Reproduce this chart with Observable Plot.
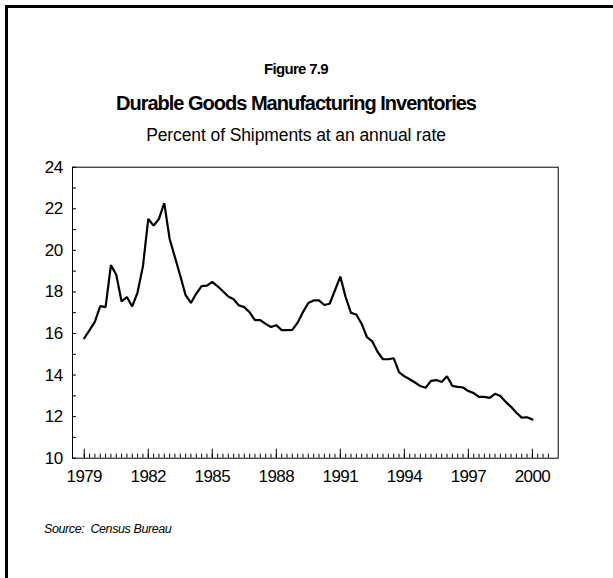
<!DOCTYPE html>
<html><head><meta charset="utf-8">
<script src="https://cdn.jsdelivr.net/npm/d3@7"></script>
<script src="https://cdn.jsdelivr.net/npm/@observablehq/plot@0.6"></script>
<style>
html,body{margin:0;padding:0;background:#fff;}
body{width:613px;height:578px;position:relative;overflow:hidden;font-family:"Liberation Sans",Arial,sans-serif;color:#000;}
#border{position:absolute;left:5px;top:5px;width:640px;height:640px;border-top:3px solid #000;border-left:3px solid #000;}
.t{position:absolute;left:0;width:592px;text-align:center;white-space:nowrap;line-height:1;}
#fig{top:60.7px;font-size:15px;font-weight:bold;letter-spacing:-0.7px;}
#title{top:93px;font-size:20px;font-weight:bold;letter-spacing:-1px;}
#sub{top:127.4px;font-size:17.5px;letter-spacing:-0.1px;}
#src{position:absolute;left:44px;top:523px;font-size:12.5px;font-style:italic;letter-spacing:-0.4px;line-height:1;white-space:pre;}
#chart{position:absolute;left:0;top:130px;}
</style>
</head><body>
<div id="border"></div>
<div class="t" id="fig">Figure 7.9</div>
<div class="t" id="title">Durable Goods Manufacturing Inventories</div>
<div class="t" id="sub">Percent of Shipments at an annual rate</div>
<div id="chart"></div>
<div id="src">Source:  Census Bureau</div>
<script>
// Quarterly series, 1979 Q1 .. 2000 Q1
const startYear = 1979;
const inventories = [
  15.77, 16.16, 16.57, 17.32, 17.27, 19.29, 18.83, 17.54, 17.75, 17.30, 17.98, 19.23,
  21.51, 21.19, 21.51, 22.27, 20.56, 19.67, 18.78, 17.84, 17.47, 17.92, 18.28, 18.30,
  18.48, 18.27, 18.03, 17.78, 17.65, 17.35, 17.27, 17.02, 16.64, 16.64, 16.46, 16.31,
  16.40, 16.16, 16.16, 16.17, 16.52, 17.03, 17.47, 17.59, 17.59, 17.37, 17.43, 18.08,
  18.74, 17.75, 16.99, 16.91, 16.46, 15.82, 15.62, 15.11, 14.76, 14.76, 14.81, 14.14,
  13.94, 13.80, 13.64, 13.47, 13.39, 13.72, 13.76, 13.67, 13.94, 13.48, 13.43, 13.40,
  13.23, 13.13, 12.95, 12.95, 12.90, 13.10, 12.99, 12.71, 12.47, 12.19, 11.95, 11.97,
  11.86
];
const yearTicks = [1979, 1982, 1985, 1988, 1991, 1994, 1997, 2000];
const yTicks = [10, 12, 14, 16, 18, 20, 22, 24];
const yMinorTicks = [10, 11, 12, 13, 14, 15, 16, 17, 18, 19, 20, 21, 22, 23, 24];

const data = inventories.map((v, i) => ({t: startYear + i / 4, v}));
const quarterTicks = d3.range(1979, 2001, 0.25);

const chart = Plot.plot({
  width: 613,
  height: 380,
  marginLeft: 72,
  marginRight: 55.3,
  marginTop: 36.7,
  marginBottom: 52.3,
  x: {domain: [1978.45, 2001.21]},
  y: {domain: [10, 24]},
  style: {fontFamily: "'Liberation Sans', Arial, sans-serif", fontSize: "17px", color: "#000", background: "transparent", letterSpacing: "-0.6px"},
  marks: [
    Plot.frame({stroke: "#000", strokeWidth: 1}),
    Plot.axisY(yMinorTicks, {anchor: "left", tickSize: -4, fill: "none", label: null, stroke: "#000"}),
    Plot.axisY(yTicks, {anchor: "left", tickSize: 0, tickPadding: 10, tickFormat: d => String(d), label: null, fill: "#000"}),
    Plot.axisX(quarterTicks, {anchor: "bottom", tickSize: -4, fill: "none", label: null, stroke: "#000"}),
    Plot.axisX(yearTicks, {anchor: "bottom", tickSize: -9, fill: "none", label: null, stroke: "#000"}),
    Plot.axisX(yearTicks, {anchor: "bottom", tickSize: 0, tickPadding: 12.2, tickFormat: d => String(d), label: null, fill: "#000"}),
    Plot.lineY(data, {x: "t", y: "v", stroke: "#000", strokeWidth: 2.2, strokeLinejoin: "miter"})
  ]
});
document.getElementById("chart").appendChild(chart);
</script>
</body></html>
